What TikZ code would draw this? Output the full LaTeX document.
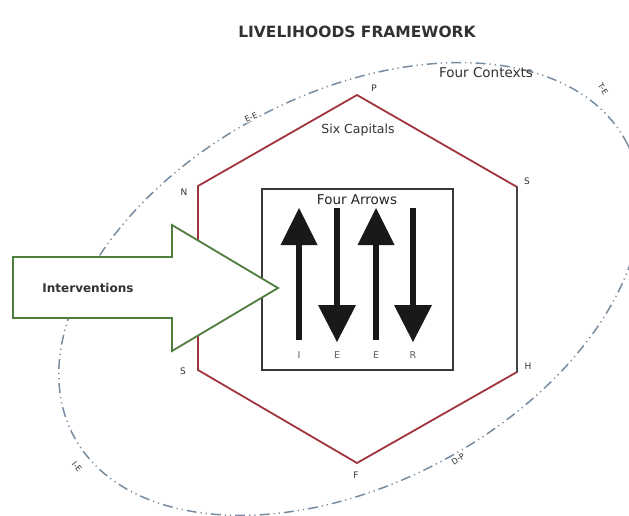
\documentclass[tikz,border=0pt]{standalone}
\usepackage{fontspec}
\setmainfont{DejaVu Sans}
\definecolor{hexred}{RGB}{160,52,62}
\definecolor{hexgray}{RGB}{70,70,70}
\definecolor{ellcol}{RGB}{120,140,160}
\definecolor{intgreen}{RGB}{78,125,60}
\definecolor{txt}{RGB}{50,50,50}
\tikzset{
  ctxline/.style={ellcol, line width=1.5pt, dash pattern=on 10pt off 4pt on 1.2pt off 4pt on 1.2pt off 4pt},
  hexedge/.style={hexred, line width=1.8pt, line cap=round},
  vlabel/.style={text=txt, font=\fontsize{9}{11}\selectfont, inner sep=0pt},
  elabel/.style={text=txt, font=\fontsize{8}{9}\selectfont, inner sep=0.8pt, fill=white},
  bigarrow/.style={fill=black!90},
  arrlabel/.style={text=txt!80, font=\fontsize{9.5}{11}\selectfont, inner sep=0pt}
}
\begin{document}
\begin{tikzpicture}[x=1pt,y=-1pt]
\useasboundingbox (0,0) rectangle (629,515);
\clip (0,0) rectangle (629,515);
% title
\node[text=txt, font=\bfseries\fontsize{15.5}{18}\selectfont] (title) at (357,32) {LIVELIHOODS FRAMEWORK};
% context ellipse
\draw[ctxline, rotate around={28:(350,289)}] (350,289) ellipse [x radius=313, y radius=195];
\node[text=txt, font=\fontsize{13.5}{16}\selectfont] (contexts) at (486,73) {Four Contexts};
\node[elabel, rotate=24] (ee) at (251,117) {E-E};
\node[elabel, rotate=-58] (te) at (603,89) {T-E};
\node[elabel, rotate=33] (dp) at (458,459) {D-P};
\node[elabel, rotate=-50] (ie) at (77,467) {I-E};
% hexagon
\coordinate (P) at (357,95);
\coordinate (Sr) at (517,187);
\coordinate (H) at (517,372);
\coordinate (F) at (357,463);
\coordinate (Sl) at (198,370);
\coordinate (N) at (198,186);
\draw[hexedge] (H) -- (F) -- (Sl) -- (N) -- (P) -- (Sr);
\draw[hexgray, line width=1.8pt, line cap=round] (Sr) -- (H);
\node[vlabel] (lP) at (374,88) {P};
\node[vlabel] (lSr) at (527,181) {S};
\node[vlabel] (lH) at (528,366) {H};
\node[vlabel] (lF) at (356,475) {F};
\node[vlabel] (lSl) at (183,371) {S};
\node[vlabel] (lN) at (184,192) {N};
\node[text=txt, font=\fontsize{12.5}{15}\selectfont] (capitals) at (358,130) {Six Capitals};
% inner box
\draw[hexgray!80!black, line width=1.8pt] (262,189) rectangle (453,370);
\node[text=txt!70!black, font=\fontsize{13.5}{16}\selectfont] (arrows) at (357,200) {Four Arrows};
% up arrows
\foreach \c in {299,376}{
  \fill[bigarrow] (\c-3,340) rectangle (\c+3,244);
  \fill[bigarrow] (\c-18.5,245) -- (\c,208) -- (\c+18.5,245) -- cycle;
}
% down arrows
\foreach \c in {337,413}{
  \fill[bigarrow] (\c-3,208) rectangle (\c+3,306);
  \fill[bigarrow] (\c-19,305) -- (\c,342) -- (\c+19,305) -- cycle;
}
\node[arrlabel] (lI) at (299,355) {I};
\node[arrlabel] (lE1) at (337,355) {E};
\node[arrlabel] (lE2) at (376,355) {E};
\node[arrlabel] (lR) at (413,355) {R};
% interventions arrow
\draw[intgreen, line width=1.8pt, fill=white, line join=miter]
  (13,257) -- (172,257) -- (172,225) -- (278,288) -- (172,351) -- (172,318) -- (13,318) -- cycle;
\node[text=txt, font=\bfseries\fontsize{12}{14}\selectfont] (interv) at (88,288) {Interventions};
\end{tikzpicture}
\end{document}
